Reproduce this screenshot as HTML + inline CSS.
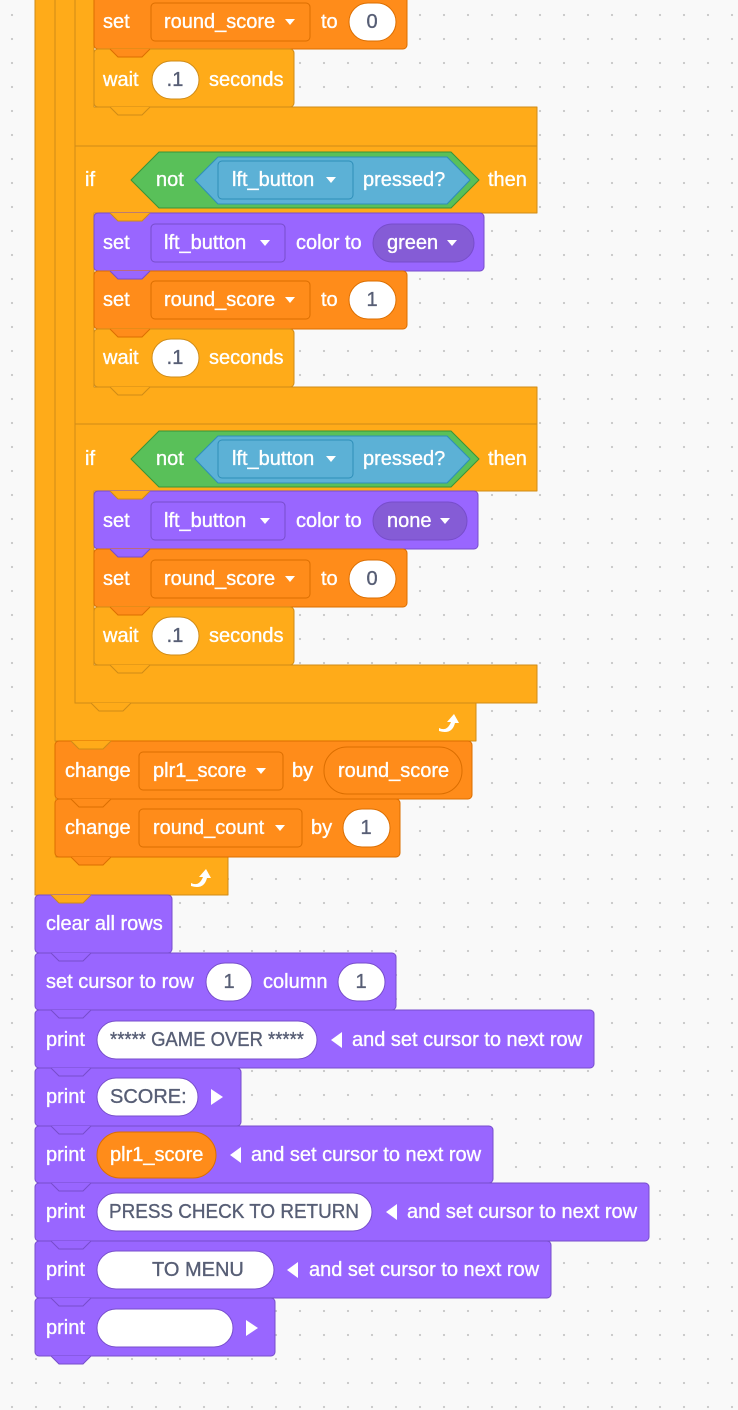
<!DOCTYPE html>
<html><head><meta charset="utf-8"><style>
html,body{margin:0;padding:0;width:738px;height:1410px;overflow:hidden;background:#F9F9F9;
background-image:radial-gradient(circle,#c9c9c9 1px,transparent 1.3px);background-size:24px 24px;background-position:0px 3px;}
svg{position:absolute;left:0;top:0}
text{font-family:"Liberation Sans",sans-serif;font-size:20px;dominant-baseline:central}
.w{fill:#fff;stroke:#fff;stroke-width:0.35px}.g{fill:#575E75;stroke:#575E75;stroke-width:0.35px}
</style></head><body>
<svg width="738" height="1410" viewBox="0 0 738 1410">
<defs>
<g id="arr"><path d="M0,0 L10,0 L5,6Z" fill="#fff"/></g>
<g id="loop"><path d="M-8,6 Q0,10 4,0 L0,0 L7,-8 L12,1 L8,1 Q5,13 -8,9Z" fill="#fff"/></g>
</defs>
<g stroke-linejoin="round">
<path d="M35,-10 H56 V857 H228 V895 H35Z" fill="#FFAB19" stroke="#CF8B17"/>
<path d="M55,-10 H75 V703 H476 V741 H55Z" fill="#FFAB19" stroke="#CF8B17"/>
<path d="M75,-10 H94 V107 H537 V146 H75Z" fill="#FFAB19" stroke="#CF8B17"/>
<path d="M75,146 H537 V213 H94 V387 H537 V424 H75Z" fill="#FFAB19" stroke="#CF8B17"/>
<path d="M75,424 H537 V491 H94 V665 H537 V703 H75Z" fill="#FFAB19" stroke="#CF8B17"/>

<rect x="94" y="-10" width="313" height="59" rx="4" fill="#FF8C1A" stroke="#DB6E00"/>
<rect x="94" y="49" width="200" height="58" rx="4" fill="#FFAB19" stroke="#CF8B17"/>
<rect x="94" y="213" width="390" height="58" rx="4" fill="#9966FF" stroke="#774DCB"/>
<rect x="94" y="271" width="313" height="58" rx="4" fill="#FF8C1A" stroke="#DB6E00"/>
<rect x="94" y="329" width="200" height="58" rx="4" fill="#FFAB19" stroke="#CF8B17"/>
<rect x="94" y="491" width="384" height="58" rx="4" fill="#9966FF" stroke="#774DCB"/>
<rect x="94" y="549" width="313" height="58" rx="4" fill="#FF8C1A" stroke="#DB6E00"/>
<rect x="94" y="607" width="200" height="58" rx="4" fill="#FFAB19" stroke="#CF8B17"/>
<rect x="55" y="741" width="417" height="58" rx="4" fill="#FF8C1A" stroke="#DB6E00"/>
<rect x="55" y="799" width="345" height="58" rx="4" fill="#FF8C1A" stroke="#DB6E00"/>
<rect x="35" y="895" width="137" height="58" rx="4" fill="#9966FF" stroke="#774DCB"/>
<rect x="35" y="953" width="361" height="57" rx="4" fill="#9966FF" stroke="#774DCB"/>
<rect x="35" y="1010" width="559" height="58" rx="4" fill="#9966FF" stroke="#774DCB"/>
<rect x="35" y="1068" width="206" height="58" rx="4" fill="#9966FF" stroke="#774DCB"/>
<rect x="35" y="1126" width="458" height="57" rx="4" fill="#9966FF" stroke="#774DCB"/>
<rect x="35" y="1183" width="614" height="58" rx="4" fill="#9966FF" stroke="#774DCB"/>
<rect x="35" y="1241" width="516" height="57" rx="4" fill="#9966FF" stroke="#774DCB"/>
<rect x="35" y="1298" width="240" height="58" rx="4" fill="#9966FF" stroke="#774DCB"/>

<g>
<path d="M110,49 L118,57 H142 L150,49Z" fill="#FF8C1A"/><path d="M110,49 L118,57 H142 L150,49" fill="none" stroke="#DB6E00"/>
<path d="M110,107 L118,115 H142 L150,107Z" fill="#FFAB19"/><path d="M110,107 L118,115 H142 L150,107" fill="none" stroke="#CF8B17"/>
<path d="M110,213 L118,221 H142 L150,213Z" fill="#FFAB19"/><path d="M110,213 L118,221 H142 L150,213" fill="none" stroke="#CF8B17"/>
<path d="M110,271 L118,279 H142 L150,271Z" fill="#9966FF"/><path d="M110,271 L118,279 H142 L150,271" fill="none" stroke="#774DCB"/>
<path d="M110,329 L118,337 H142 L150,329Z" fill="#FF8C1A"/><path d="M110,329 L118,337 H142 L150,329" fill="none" stroke="#DB6E00"/>
<path d="M110,387 L118,395 H142 L150,387Z" fill="#FFAB19"/><path d="M110,387 L118,395 H142 L150,387" fill="none" stroke="#CF8B17"/>
<path d="M110,491 L118,499 H142 L150,491Z" fill="#FFAB19"/><path d="M110,491 L118,499 H142 L150,491" fill="none" stroke="#CF8B17"/>
<path d="M110,549 L118,557 H142 L150,549Z" fill="#9966FF"/><path d="M110,549 L118,557 H142 L150,549" fill="none" stroke="#774DCB"/>
<path d="M110,607 L118,615 H142 L150,607Z" fill="#FF8C1A"/><path d="M110,607 L118,615 H142 L150,607" fill="none" stroke="#DB6E00"/>
<path d="M110,665 L118,673 H142 L150,665Z" fill="#FFAB19"/><path d="M110,665 L118,673 H142 L150,665" fill="none" stroke="#CF8B17"/>
<path d="M91,703 L99,711 H123 L131,703Z" fill="#FFAB19"/><path d="M91,703 L99,711 H123 L131,703" fill="none" stroke="#CF8B17"/>
<path d="M71,741 L79,749 H103 L111,741Z" fill="#FFAB19"/><path d="M71,741 L79,749 H103 L111,741" fill="none" stroke="#CF8B17"/>
<path d="M71,799 L79,807 H103 L111,799Z" fill="#FF8C1A"/><path d="M71,799 L79,807 H103 L111,799" fill="none" stroke="#DB6E00"/>
<path d="M71,857 L79,865 H103 L111,857Z" fill="#FF8C1A"/><path d="M71,857 L79,865 H103 L111,857" fill="none" stroke="#DB6E00"/>
<path d="M51,895 L59,903 H83 L91,895Z" fill="#FFAB19"/><path d="M51,895 L59,903 H83 L91,895" fill="none" stroke="#CF8B17"/>
<path d="M51,953 L59,961 H83 L91,953Z" fill="#9966FF"/><path d="M51,953 L59,961 H83 L91,953" fill="none" stroke="#774DCB"/>
<path d="M51,1010 L59,1018 H83 L91,1010Z" fill="#9966FF"/><path d="M51,1010 L59,1018 H83 L91,1010" fill="none" stroke="#774DCB"/>
<path d="M51,1068 L59,1076 H83 L91,1068Z" fill="#9966FF"/><path d="M51,1068 L59,1076 H83 L91,1068" fill="none" stroke="#774DCB"/>
<path d="M51,1126 L59,1134 H83 L91,1126Z" fill="#9966FF"/><path d="M51,1126 L59,1134 H83 L91,1126" fill="none" stroke="#774DCB"/>
<path d="M51,1183 L59,1191 H83 L91,1183Z" fill="#9966FF"/><path d="M51,1183 L59,1191 H83 L91,1183" fill="none" stroke="#774DCB"/>
<path d="M51,1241 L59,1249 H83 L91,1241Z" fill="#9966FF"/><path d="M51,1241 L59,1249 H83 L91,1241" fill="none" stroke="#774DCB"/>
<path d="M51,1298 L59,1306 H83 L91,1298Z" fill="#9966FF"/><path d="M51,1298 L59,1306 H83 L91,1298" fill="none" stroke="#774DCB"/>
<path d="M51,1356 L59,1364 H83 L91,1356Z" fill="#9966FF"/><path d="M51,1356 L59,1364 H83 L91,1356" fill="none" stroke="#774DCB"/>
</g>

<rect x="151" y="3" width="159" height="38" rx="4" fill="#FF8C1A" stroke="#DB6E00"/>
<rect x="349" y="3" width="47" height="38" rx="19" fill="#fff" stroke="#DB6E00"/>
<rect x="152" y="61" width="47" height="38" rx="19" fill="#fff" stroke="#CF8B17"/>
<path d="M131,180 L159,152 H451 L479,180 L451,208 H159Z" fill="#59C059" stroke="#389438"/>
<path d="M195,180 L218,157 H447 L470,180 L447,204 H218Z" fill="#5CB1D6" stroke="#2E8EB8"/>
<rect x="218" y="161" width="135" height="38" rx="4" fill="#5CB1D6" stroke="#2E8EB8"/>
<rect x="151" y="224" width="134" height="38" rx="4" fill="#9966FF" stroke="#774DCB"/>
<rect x="373" y="224" width="101" height="38" rx="19" fill="#855CD6" stroke="#774DCB"/>
<rect x="151" y="281" width="159" height="38" rx="4" fill="#FF8C1A" stroke="#DB6E00"/>
<rect x="349" y="281" width="47" height="38" rx="19" fill="#fff" stroke="#DB6E00"/>
<rect x="152" y="339" width="47" height="38" rx="19" fill="#fff" stroke="#CF8B17"/>
<path d="M131,459 L159,431 H451 L479,459 L451,487 H159Z" fill="#59C059" stroke="#389438"/>
<path d="M195,459 L218,436 H447 L470,459 L447,483 H218Z" fill="#5CB1D6" stroke="#2E8EB8"/>
<rect x="218" y="440" width="135" height="38" rx="4" fill="#5CB1D6" stroke="#2E8EB8"/>
<rect x="151" y="502" width="134" height="38" rx="4" fill="#9966FF" stroke="#774DCB"/>
<rect x="373" y="502" width="94" height="38" rx="19" fill="#855CD6" stroke="#774DCB"/>
<rect x="151" y="560" width="159" height="38" rx="4" fill="#FF8C1A" stroke="#DB6E00"/>
<rect x="349" y="560" width="47" height="38" rx="19" fill="#fff" stroke="#DB6E00"/>
<rect x="152" y="617" width="47" height="38" rx="19" fill="#fff" stroke="#CF8B17"/>
<rect x="139" y="752" width="144" height="38" rx="4" fill="#FF8C1A" stroke="#DB6E00"/>
<rect x="324" y="747" width="138" height="47" rx="23" fill="#FF8C1A" stroke="#DB6E00"/>
<rect x="139" y="809" width="163" height="38" rx="4" fill="#FF8C1A" stroke="#DB6E00"/>
<rect x="343" y="809" width="47" height="38" rx="19" fill="#fff" stroke="#DB6E00"/>
<rect x="206" y="963" width="46" height="38" rx="19" fill="#fff" stroke="#774DCB"/>
<rect x="338" y="963" width="47" height="38" rx="19" fill="#fff" stroke="#774DCB"/>
<rect x="97" y="1021" width="220" height="38" rx="19" fill="#fff" stroke="#774DCB"/>
<rect x="97" y="1078" width="101" height="38" rx="19" fill="#fff" stroke="#774DCB"/>
<rect x="97" y="1132" width="119" height="46" rx="23" fill="#FF8C1A" stroke="#DB6E00"/>
<rect x="97" y="1193" width="275" height="38" rx="19" fill="#fff" stroke="#774DCB"/>
<rect x="97" y="1251" width="177" height="38" rx="19" fill="#fff" stroke="#774DCB"/>
<rect x="97" y="1309" width="136" height="38" rx="19" fill="#fff" stroke="#774DCB"/>
</g>

<use href="#arr" x="285" y="19"/>
<use href="#arr" x="326" y="177"/>
<use href="#arr" x="260" y="240"/>
<use href="#arr" x="447" y="240"/>
<use href="#arr" x="285" y="297"/>
<use href="#arr" x="326" y="456"/>
<use href="#arr" x="260" y="518"/>
<use href="#arr" x="440" y="518"/>
<use href="#arr" x="285" y="576"/>
<use href="#arr" x="256" y="768"/>
<use href="#arr" x="275" y="825"/>
<use href="#loop" x="447" y="722"/>
<use href="#loop" x="199" y="877"/>
<path d="M342,1032 V1048 L331,1040Z" fill="#fff"/>
<path d="M211,1089 V1105 L223,1097Z" fill="#fff"/>
<path d="M241,1147 V1163 L230,1155Z" fill="#fff"/>
<path d="M397,1204 V1220 L386,1212Z" fill="#fff"/>
<path d="M298,1262 V1278 L287,1270Z" fill="#fff"/>
<path d="M246,1320 V1336 L258,1328Z" fill="#fff"/>

<g class="w">
<text x="103" y="22">set</text><text x="164" y="22">round_score</text><text x="321" y="22">to</text>
<text x="103" y="80">wait</text><text x="209" y="80">seconds</text>
<text x="85" y="180">if</text><text x="156" y="180">not</text><text x="232" y="180">lft_button</text><text x="363" y="180">pressed?</text><text x="488" y="180">then</text>
<text x="103" y="243">set</text><text x="164" y="243">lft_button</text><text x="296" y="243">color to</text><text x="387" y="243">green</text>
<text x="103" y="300">set</text><text x="164" y="300">round_score</text><text x="321" y="300">to</text>
<text x="103" y="358">wait</text><text x="209" y="358">seconds</text>
<text x="85" y="459">if</text><text x="156" y="459">not</text><text x="232" y="459">lft_button</text><text x="363" y="459">pressed?</text><text x="488" y="459">then</text>
<text x="103" y="521">set</text><text x="164" y="521">lft_button</text><text x="296" y="521">color to</text><text x="387" y="521">none</text>
<text x="103" y="579">set</text><text x="164" y="579">round_score</text><text x="321" y="579">to</text>
<text x="103" y="636">wait</text><text x="209" y="636">seconds</text>
<text x="65" y="771">change</text><text x="153" y="771">plr1_score</text><text x="292" y="771">by</text><text x="338" y="771">round_score</text>
<text x="65" y="828">change</text><text x="153" y="828">round_count</text><text x="311" y="828">by</text>
<text x="46" y="924">clear all rows</text>
<text x="46" y="982">set cursor to row</text><text x="263" y="982">column</text>
<text x="46" y="1040">print</text><text x="352" y="1040">and set cursor to next row</text>
<text x="46" y="1097">print</text>
<text x="46" y="1155">print</text><text x="110" y="1155">plr1_score</text><text x="251" y="1155">and set cursor to next row</text>
<text x="46" y="1212">print</text><text x="407" y="1212">and set cursor to next row</text>
<text x="46" y="1270">print</text><text x="309" y="1270">and set cursor to next row</text>
<text x="46" y="1328">print</text>
</g>
<g class="g">
<text x="372" y="22" text-anchor="middle">0</text><text x="175" y="80" text-anchor="middle">.1</text>
<text x="372" y="300" text-anchor="middle">1</text><text x="175" y="358" text-anchor="middle">.1</text>
<text x="372" y="579" text-anchor="middle">0</text><text x="175" y="636" text-anchor="middle">.1</text>
<text x="366" y="828" text-anchor="middle">1</text>
<text x="229" y="982" text-anchor="middle">1</text><text x="361" y="982" text-anchor="middle">1</text>
<text x="110" y="1040" font-size="19" textLength="194" lengthAdjust="spacingAndGlyphs">***** GAME OVER *****</text>
<text x="110" y="1097">SCORE:</text>
<text x="109" y="1212" font-size="20" textLength="250" lengthAdjust="spacingAndGlyphs">PRESS CHECK TO RETURN</text>
<text x="152" y="1270">TO MENU</text>
</g>
</svg>
</body></html>
